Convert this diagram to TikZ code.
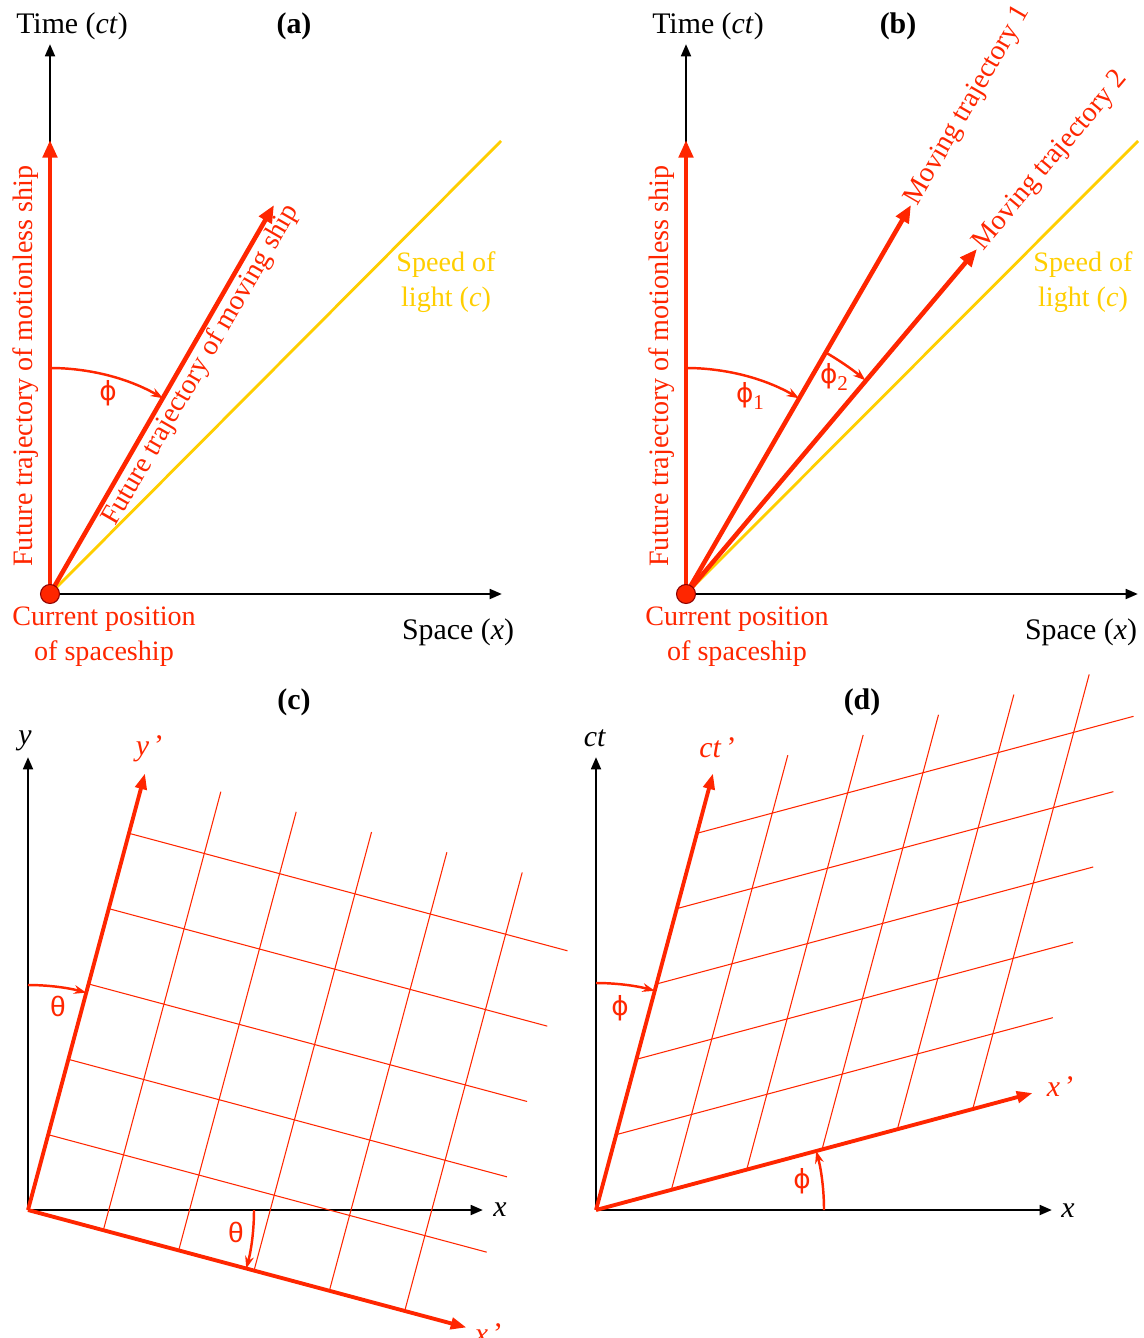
\documentclass[tikz,border=0pt]{standalone}
\usepackage{fontspec}
\setmainfont{Liberation Serif}
\newfontfamily\greekfont{Liberation Sans}
\newfontfamily\phifont{DejaVu Sans}
\usetikzlibrary{arrows.meta,calc}
\definecolor{ltred}{RGB}{255,38,0}
\definecolor{ltyellow}{RGB}{255,206,0}
\newcommand{\phisym}{{\phifont\fontsize{15}{20}\selectfont ϕ}}

\begin{document}
\begin{tikzpicture}[x=0.02cm, y=-0.02cm,
    font=\fontsize{16}{20}\selectfont,
    axis/.style={line width=1.5pt, -{Triangle[length=7pt,width=5.5pt]}},
    worldline/.style={ltred, line width=2.6pt, -{Triangle[length=10pt,width=8pt]}},
    lightline/.style={ltyellow, line width=1.6pt},
    primeaxis/.style={ltred, line width=2.2pt, -{Triangle[length=9pt,width=6.5pt]}},
    gridline/.style={ltred, line width=0.6pt},
    anglearc/.style={ltred, line width=1.4pt, -{Stealth[length=7pt,width=5pt]}},
    redlabel/.style={text=ltred},
    blacklabel/.style={font=\fontsize{17}{20}\selectfont},
    caption/.style={font=\bfseries\fontsize{17}{20}\selectfont},
    greeklabel/.style={text=ltred, font=\greekfont\fontsize{16}{20}\selectfont},
    shipdot/.style={circle, fill=ltred, draw=red!55!black, line width=0.6pt,
        minimum size=0.38cm, inner sep=0pt}]
\useasboundingbox (0,0) rectangle (1143,1338);

% Panel (a)
\coordinate (oa) at (50,594);
\coordinate (ta) at (50,44);
\coordinate (xa) at (502,594);
\coordinate (la) at (501,141);
\coordinate (ra) at (50,140);
\coordinate (ma) at (274,205);
\draw[axis] (oa) -- (ta);
\draw[axis] (oa) -- (xa);
\draw[lightline] (oa) -- (la);
\draw[worldline] (oa) -- (ra);
\draw[worldline] (oa) -- (ma);
\draw[anglearc] ($(oa)+(0,-226)$) arc[start angle=-90, end angle=-60, radius=226];
\node[blacklabel] (timea) at (72,26) {Time (\textit{ct})};
\node[caption] (capa) at (294,26) {(a)};
\node[redlabel, rotate=90] (resta) at (26,366) {Future trajectory of motionless ship};
\node[redlabel, rotate=60, anchor=north, inner sep=2pt] (movea) at ($(oa)!0.61!(ma)$) {Future trajectory of moving ship};
\node[redlabel] (phia) at (108,393) {\phisym};
\node[text=ltyellow, align=center] (speeda) at (446,282) {Speed of\\light (\textit{c})};
\node[redlabel, align=center] (posa) at (104,637) {Current position\\of spaceship};
\node[blacklabel] (spacea) at (458,632) {Space (\textit{x})};
\node[shipdot] (shipa) at (oa) {};

% Panel (b)
\coordinate (ob) at (686,594);
\coordinate (tb) at (686,44);
\coordinate (xb) at (1138,594);
\coordinate (lb) at (1138,141);
\coordinate (rb) at (686,140);
\coordinate (mb1) at (911,205);
\coordinate (mb2) at (977,249);
\draw[axis] (ob) -- (tb);
\draw[axis] (ob) -- (xb);
\draw[lightline] (ob) -- (lb);
\draw[worldline] (ob) -- (rb);
\draw[worldline] (ob) -- (mb1);
\draw[worldline] (ob) -- (mb2);
\draw[anglearc] ($(ob)+(0,-226)$) arc[start angle=-90, end angle=-60, radius=226];
\draw[anglearc] ($(ob)+(-60:279)$) arc[start angle=-60, end angle=-50, radius=279];
\node[blacklabel] (timeb) at (708,26) {Time (\textit{ct})};
\node[caption] (capb) at (898,26) {(b)};
\node[redlabel, rotate=90] (restb) at (662,366) {Future trajectory of motionless ship};
\node[redlabel, rotate=60, anchor=west, inner sep=1pt] (moveb1) at (mb1) {Moving trajectory 1};
\node[redlabel, rotate=50, anchor=west, inner sep=1pt] (moveb2) at (mb2) {Moving trajectory 2};
\node[redlabel] (phib1) at (750,396) {\phisym\raisebox{-0.5ex}{\fontsize{12}{12}\selectfont 1}};
\node[redlabel] (phib2) at (834,377) {\phisym\raisebox{-0.5ex}{\fontsize{12}{12}\selectfont 2}};
\node[text=ltyellow, align=center] (speedb) at (1083,282) {Speed of\\light (\textit{c})};
\node[redlabel, align=center] (posb) at (737,637) {Current position\\of spaceship};
\node[blacklabel] (spaceb) at (1081,632) {Space (\textit{x})};
\node[shipdot] (shipb) at (ob) {};

% Panel (c)
\coordinate (oc) at (28,1210);
\coordinate (yc) at (28,757);
\coordinate (xc) at (483,1210);
\coordinate (ypc) at ($(oc)+(-75:452)$);
\coordinate (xpc) at ($(oc)+(15:454)$);
\draw[axis] (oc) -- (yc);
\draw[axis] (oc) -- (xc);
\foreach \k in {1,...,5} {
    \draw[gridline] ($(oc)+(15:78*\k)$) -- ++(-75:454);
    \draw[gridline] ($(oc)+(-75:78*\k)$) -- ++(15:454);
}
\draw[primeaxis] (oc) -- (ypc);
\draw[primeaxis] (oc) -- (xpc);
\draw[anglearc] ($(oc)+(0,-225)$) arc[start angle=-90, end angle=-75, radius=225];
\draw[anglearc] ($(oc)+(226,0)$) arc[start angle=0, end angle=15, radius=226];
\node[caption] (capc) at (294,702) {(c)};
\node[blacklabel] (ylab) at (25,741) {\textit{y}};
\node[blacklabel, redlabel] (yplab) at (150,749) {\textit{y}\,’};
\node[blacklabel] (xlabc) at (500,1210) {\textit{x}};
\node[blacklabel, redlabel] (xplabc) at (489,1334) {\textit{x}\,’};
\node[greeklabel] (thetac1) at (58,1006) {θ};
\node[greeklabel] (thetac2) at (236,1232) {θ};

% Panel (d)
\coordinate (od) at (596,1210);
\coordinate (ctd) at (596,757);
\coordinate (xd) at (1052,1210);
\coordinate (ctpd) at ($(od)+(-75:452)$);
\coordinate (xpd) at ($(od)+(-15:452)$);
\draw[axis] (od) -- (ctd);
\draw[axis] (od) -- (xd);
\foreach \k in {1,...,5} {
    \draw[gridline] ($(od)+(-15:78*\k)$) -- ++(-75:450);
    \draw[gridline] ($(od)+(-75:78*\k)$) -- ++(-15:452);
}
\draw[primeaxis] (od) -- (ctpd);
\draw[primeaxis] (od) -- (xpd);
\draw[anglearc] ($(od)+(0,-227)$) arc[start angle=-90, end angle=-75, radius=227];
\draw[anglearc] ($(od)+(228,0)$) arc[start angle=0, end angle=-15, radius=228];
\node[caption] (capd) at (862,702) {(d)};
\node[blacklabel] (ctlab) at (595,738) {\textit{ct}};
\node[blacklabel, redlabel] (ctplab) at (718,748) {\textit{ct}\,’};
\node[blacklabel] (xlabd) at (1068,1211) {\textit{x}};
\node[blacklabel, redlabel] (xplabd) at (1061,1087) {\textit{x}\,’};
\node[redlabel] (phid1) at (620,1008) {\phisym};
\node[redlabel] (phid2) at (802,1181) {\phisym};
\end{tikzpicture}
\end{document}
